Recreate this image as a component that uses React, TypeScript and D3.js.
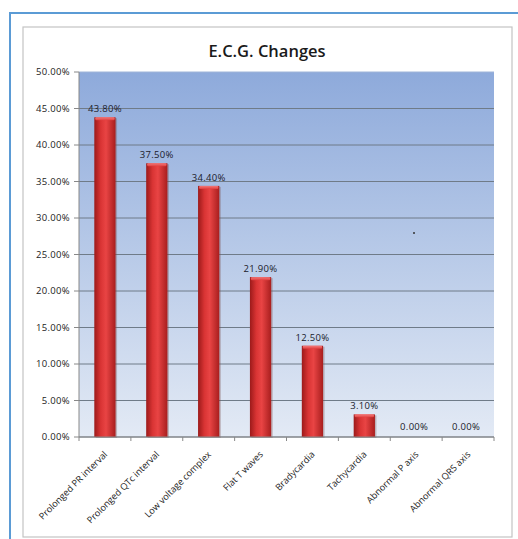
import React from "react";
import * as d3 from "d3";

const categories = [
  "Prolonged PR interval",
  "Prolonged QTc interval",
  "Low voltage complex",
  "Flat T waves",
  "Bradycardia",
  "Tachycardia",
  "Abnormal P axis",
  "Abnormal QRS axis",
];
const values = [43.8, 37.5, 34.4, 21.9, 12.5, 3.1, 0, 0];
const yTicks = [0, 5, 10, 15, 20, 25, 30, 35, 40, 45, 50];
const title = "E.C.G. Changes";

const W = 518;
const H = 539;
const plot = { left: 79, top: 72, right: 494, bottom: 437 };
const font = "'Open Sans', 'Noto Sans', sans-serif";

export default function App() {
  const x = d3
    .scaleBand<string>()
    .domain(categories)
    .range([plot.left, plot.right])
    .paddingInner(0.59)
    .paddingOuter(0.295);
  const band = d3.scaleBand<string>().domain(categories).range([plot.left, plot.right]);
  const y = d3.scaleLinear().domain([0, 50]).range([plot.bottom, plot.top]);
  const fmt = (v: number) => d3.format(".2f")(v) + "%";

  return (
    <svg
      width={W}
      height={H}
      viewBox={`0 0 ${W} ${H}`}
      style={{ position: "absolute", left: 0, top: 0, background: "#fff" }}
    >
      <defs>
        <linearGradient id="plotBg" x1="0" y1="0" x2="0" y2="1">
          <stop offset="0%" stopColor="#8eaadb" />
          <stop offset="50%" stopColor="#b8cae8" />
          <stop offset="100%" stopColor="#e3eaf5" />
        </linearGradient>
        <linearGradient id="barFill" x1="0" y1="0" x2="1" y2="0">
          <stop offset="0%" stopColor="#9c1a1a" />
          <stop offset="30%" stopColor="#d93434" />
          <stop offset="55%" stopColor="#e94444" />
          <stop offset="100%" stopColor="#a81e1e" />
        </linearGradient>
        <linearGradient id="capFill" x1="0" y1="0" x2="0" y2="1">
          <stop offset="0%" stopColor="#f47a7a" />
          <stop offset="100%" stopColor="#e04040" />
        </linearGradient>
      </defs>

      {/* outer frame */}
      <rect x={10} y={13} width={W} height={H} fill="none" stroke="#5b9bd5" strokeWidth={2} />
      <rect x={23} y={27} width={489} height={510} fill="#fff" stroke="#c4c4c4" strokeWidth={1.2} />

      <text
        x={267}
        y={57}
        textAnchor="middle"
        fontFamily={font}
        fontSize={16.5}
        fontWeight={600}
        fill="#1a1a1a"
      >
        {title}
      </text>

      {/* plot area */}
      <rect
        x={plot.left}
        y={plot.top}
        width={plot.right - plot.left}
        height={plot.bottom - plot.top}
        fill="url(#plotBg)"
      />
      {yTicks.map((t) => (
        <g key={t}>
          <line
            x1={plot.left}
            x2={plot.right}
            y1={y(t)}
            y2={y(t)}
            stroke={t === 50 ? "#9fb4d8" : "#6f7b88"}
            strokeWidth={1}
          />
          <line x1={plot.left - 5} x2={plot.left} y1={y(t)} y2={y(t)} stroke="#888" />
          <text
            x={plot.left - 9}
            y={y(t)}
            dy="0.35em"
            textAnchor="end"
            fontFamily={font}
            fontSize={9.5}
            letterSpacing={0.3}
            fill="#222"
          >
            {fmt(t)}
          </text>
        </g>
      ))}

      {/* bars */}
      {categories.map((c, i) => {
        const v = values[i];
        const bx = x(c)!;
        const bw = x.bandwidth();
        const top = y(v);
        const h = plot.bottom - top;
        return (
          <g key={c}>
            {h > 0 && (
              <>
                <rect x={bx + 1.5} y={top + 1} width={bw} height={h} fill="#7a5050" opacity={0.35} />
                <rect x={bx} y={top} width={bw} height={h} fill="url(#barFill)" />
                <rect x={bx + 1} y={top} width={bw - 2} height={3} rx={1} fill="url(#capFill)" />
              </>
            )}
            <text
              x={bx + bw / 2 + (v === 0 ? -2 : 0)}
              y={v === 0 ? y(v) - 7 : top - 5}
              textAnchor="middle"
              fontFamily={font}
              fontSize={9.5}
              letterSpacing={0.3}
              fill="#1a1a2a"
            >
              {fmt(v)}
            </text>
          </g>
        );
      })}

      {/* axes */}
      <line x1={plot.left} x2={plot.left} y1={plot.top} y2={plot.bottom} stroke="#888" />
      <line x1={plot.left} x2={plot.right} y1={plot.bottom} y2={plot.bottom} stroke="#888" />
      {categories.map((c) => (
        <line
          key={"t" + c}
          x1={band(c)!}
          x2={band(c)!}
          y1={plot.bottom}
          y2={plot.bottom + 4}
          stroke="#888"
        />
      ))}
      <line x1={plot.right} x2={plot.right} y1={plot.bottom} y2={plot.bottom + 4} stroke="#888" />

      {/* category labels */}
      {categories.map((c) => {
        const cx = band(c)! + band.bandwidth() / 2;
        return (
          <text
            key={"l" + c}
            transform={`translate(${cx + 3},${plot.bottom + 18}) rotate(-45)`}
            textAnchor="end"
            fontFamily={font}
            fontSize={9.2}
            fill="#222"
          >
            {c}
          </text>
        );
      })}

      <circle cx={414} cy={233} r={1} fill="#333" />
    </svg>
  );
}
